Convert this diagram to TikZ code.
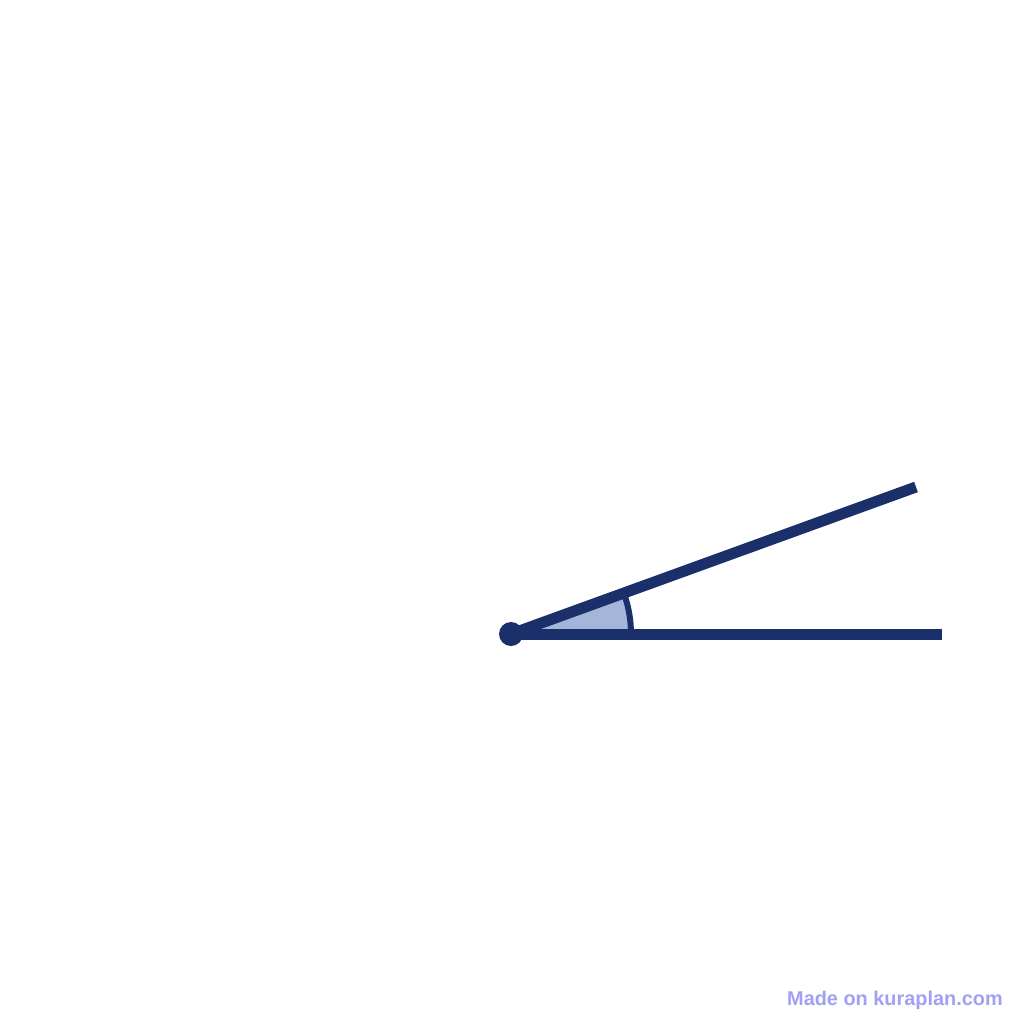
\documentclass[tikz,border=0pt]{standalone}
\usepackage{fontspec}
\setmainfont{Liberation Sans}
\definecolor{navy}{RGB}{27,47,107}
\definecolor{fillblue}{RGB}{163,181,216}
\definecolor{wm}{RGB}{160,160,245}
\begin{document}
\begin{tikzpicture}[x=1pt,y=-1pt,
  ray/.style={draw=navy,line width=11pt},
  arcline/.style={draw=navy,line width=6pt}]
\useasboundingbox (0,0) rectangle (1024,1024);
\fill[white] (0,0) rectangle (1024,1024);
\coordinate (V) at (511,634);
\coordinate (A) at (942,634);
\coordinate (B) at (916,487);
\fill[fillblue] (V) -- ++(120,0) arc[start angle=0,end angle=-20,radius=120] -- cycle;
\draw[arcline] (V) ++(120,0) arc[start angle=0,end angle=-20,radius=120];
\draw[ray] (V) -- (A);
\draw[ray] (V) -- (B);
\fill[navy] (V) circle[radius=12];
\node[anchor=base east,text=wm,font=\bfseries\fontsize{19.9}{22}\selectfont,inner sep=0pt] (wm) at (1003,1005) {Made on kuraplan.com};
\end{tikzpicture}
\end{document}
